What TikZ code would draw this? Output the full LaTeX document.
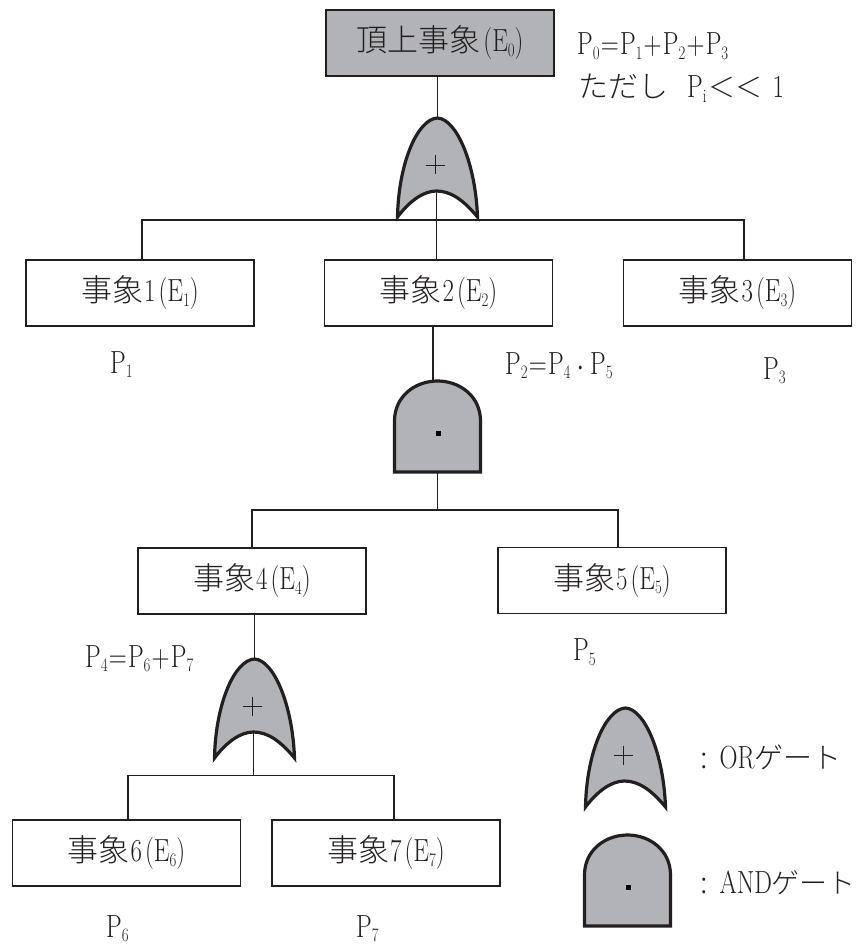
\documentclass[tikz,border=0pt]{standalone}
\usepackage{fontspec}
\newfontfamily\cjk{Noto Sans CJK JP Light}
\setmainfont[FakeStretch=0.78]{Latin Modern Roman}
\newcommand{\Jp}[1]{{\cjk\fontsize{31}{31}\selectfont #1}}
\newcommand{\JpS}[2]{{\cjk\fontsize{#1}{#1}\selectfont #2}}
\newcommand{\Lsub}[1]{\raisebox{-4.5pt}{\fontsize{19}{19}\selectfont #1}}
\newcommand{\Pn}[1]{P\Lsub{#1}}
\newcommand{\Op}[1]{\hspace{1.2pt}#1\hspace{1.2pt}}
\newcommand{\Ev}[2]{\raisebox{-5pt}{\Jp{事象}\hspace{1pt}#1\hspace{3pt}(E\Lsub{#2})}}
\definecolor{gatefill}{RGB}{178,179,182}
\definecolor{ink}{RGB}{35,31,32}
\tikzset{
  evbox/.style={draw=ink,line width=1.6pt,minimum width=228pt,minimum height=66pt,inner sep=0pt,font=\fontsize{32}{32}\selectfont,text=ink},
  topbox/.style={evbox,fill=gatefill,line width=2pt},
  wire/.style={draw=ink,line width=1.6pt},
  gateline/.style={draw=ink,fill=gatefill,line width=3.2pt,miter limit=10},
  lbl/.style={anchor=base west,inner sep=0pt,font=\fontsize{32}{32}\selectfont,text=ink},
  orgate/.pic={
    \path[gateline] (0,0) .. controls (19,1) and (38,45) .. (40,99)
      .. controls (26,82) and (13,73) .. (-1,73)
      .. controls (-14,73) and (-28,83) .. (-40,99)
      .. controls (-39,45) and (-20,1) .. (0,0) -- cycle;
    \coordinate (-top) at (0,0);
    \coordinate (-bot) at (-1,73);
    \draw[draw=ink,line width=.9pt] (-11.5,47) -- (7.5,47) (-2,37.5) -- (-2,56.5);
  },
  andgate/.pic={
    \path[gateline] (-43,91) -- (-43,40) .. controls (-43,15) and (-22,0) .. (0,0)
      .. controls (22,0) and (43,15) .. (43,40) -- (43,91) -- cycle;
    \coordinate (-top) at (0,-1);
    \coordinate (-bot) at (0,91);
    \fill[black] (-1.7,49.5) rectangle (3.5,54.5);
  }
}
\begin{document}
\begin{tikzpicture}[x=1pt,y=-1pt]
\useasboundingbox (0,0) rectangle (862,944);
% event boxes
\node[topbox] (e0) at (440,43) {\raisebox{-5pt}{\Jp{頂上事象}\hspace{3pt}(E\Lsub{0})}};
\node[evbox] (e1) at (140,293) {\Ev{1}{1}};
\node[evbox] (e2) at (438.5,293) {\Ev{2}{2}};
\node[evbox] (e3) at (737.5,293) {\Ev{3}{3}};
\node[evbox] (e4) at (252,581) {\Ev{4}{4}};
\node[evbox] (e5) at (612,580.5) {\Ev{5}{5}};
\node[evbox] (e6) at (126.5,853) {\Ev{6}{6}};
\node[evbox] (e7) at (386,853) {\Ev{7}{7}};
% gates
\pic (g1) at (437.5,118) {orgate};
\pic (g2) at (437.5,381) {andgate};
\pic (g3) at (254.5,659) {orgate};
\pic (lo) at (625.5,708) {orgate};
\pic (la) at (627.5,835) {andgate};
% bus junctions
\coordinate (b1) at (g1-bot |- 0,220);
\coordinate (b2) at (g2-bot |- 0,510);
\coordinate (b3) at (g3-bot |- 0,775.5);
% connectors
\draw[wire] (e0.south -| g1-top) -- (g1-top);
\draw[wire] (g1-bot) -- (b1) -- (g1-bot |- e2.north);
\draw[wire] (142,0 |- e1.north) |- (b1) -| (744,0 |- e3.north);
\draw[wire] (g2-top -| 433,0) -- (433,0 |- e2.south);
\draw[wire] (g2-bot) -- (b2);
\draw[wire] (e4.north) |- (b2) -| (618,0 |- e5.north);
\draw[wire] (e4.south -| g3-top) -- (g3-top);
\draw[wire] (g3-bot) -- (b3);
\draw[wire] (128,0 |- e6.north) |- (b3) -| (394,0 |- e7.north);
% probability labels
\node[lbl] (p0) at (577,55) {\Pn{0}\Op{=}\Pn{1}\Op{+}\Pn{2}\Op{+}\Pn{3}};
\node[lbl] (pc) at (578,98) {\JpS{30}{ただし}\hspace{19pt}P\Lsub{i}\hspace{2pt}\JpS{27}{＜＜}\hspace{10pt}1};
\node[lbl] (p1) at (110,373) {\Pn{1}};
\node[lbl] (p2) at (505,374) {\Pn{2}\Op{=}\Pn{4}\hspace{5pt}\raisebox{2pt}{\fontsize{17}{17}\selectfont\textbullet}\hspace{5pt}\Pn{5}};
\node[lbl] (p3) at (763,379) {\Pn{3}};
\node[lbl] (p4) at (85,667) {\Pn{4}\Op{=}\Pn{6}\Op{+}\Pn{7}};
\node[lbl] (p5) at (573,660.5) {\Pn{5}};
\node[lbl] (p6) at (106,937) {\Pn{6}};
\node[lbl] (p7) at (356,937) {\Pn{7}};
% legend labels
\node[lbl] (lor) at (700,768) {\JpS{30}{:}\hspace{12pt}OR\JpS{29}{ゲート}};
\node[lbl] (land) at (700,893) {\JpS{30}{:}\hspace{12pt}AND\JpS{28}{ゲート}};
\end{tikzpicture}
\end{document}
